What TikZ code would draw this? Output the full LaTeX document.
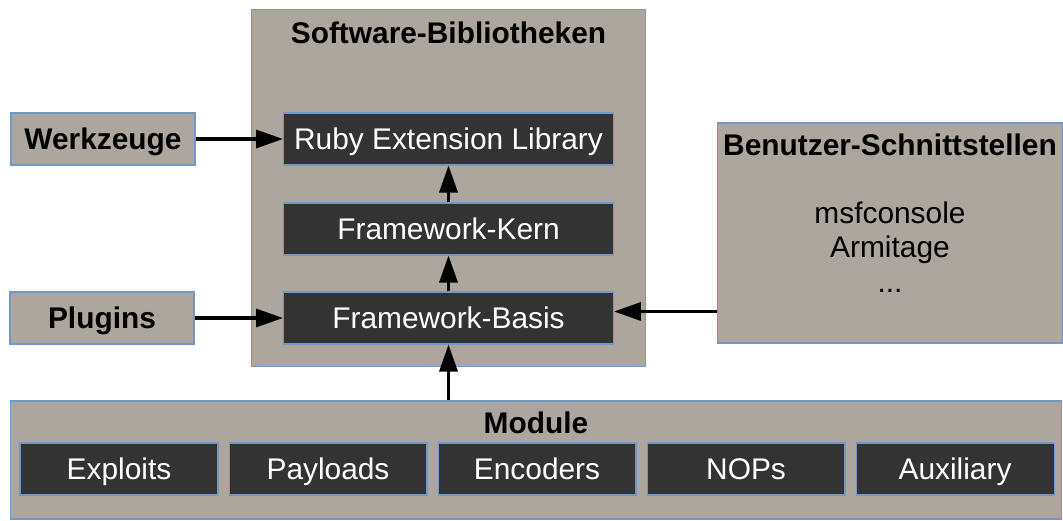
\documentclass[tikz,border=0pt]{standalone}
\usepackage{fontspec}
\setmainfont{Liberation Sans}
\usepackage{xcolor}
\usepackage{tikz}
\usetikzlibrary{positioning,arrows.meta}
\definecolor{taupe}{HTML}{ADA69F}
\definecolor{slate}{HTML}{333333}
\definecolor{rim}{HTML}{7298C8}

\begin{document}
\begin{tikzpicture}[
  x=0.02cm, y=-0.02cm,
  font=\fontsize{17}{19.5}\selectfont,
  group/.style={draw=rim, fill=taupe, line width=0.6pt, inner sep=0pt},
  part/.style={draw=rim, fill=slate, text=white, line width=0.6pt, minimum height=1.04cm, inner sep=0pt, text height=13.5pt, text depth=2pt},
  side/.style={draw=rim, fill=taupe, line width=0.6pt, minimum height=1.04cm, inner sep=0pt, text height=13.5pt, text depth=2pt, font=\fontsize{17}{19.5}\selectfont\bfseries},
  head/.style={inner sep=0pt, font=\fontsize{17}{19.5}\selectfont\bfseries},
  arr/.style={-{Triangle[length=0.54cm, width=0.36cm]}, line width=1.9pt}
]
\useasboundingbox (0,0) rectangle (1063,521);
% Software-Bibliotheken
\node[group, minimum width=7.9cm, minimum height=7.16cm] (lib) at (448.5,188) {};
\node[head] (libtitle) at (448.5,33) {Software-Bibliotheken};
\node[part, minimum width=6.6cm] (ruby) at (448.5,139) {Ruby Extension Library};
\node[part, minimum width=6.6cm] (kern) at (448.5,229) {Framework-Kern};
\node[part, minimum width=6.6cm] (basis) at (448.5,318) {Framework-Basis};
% linke Seite
\node[side, minimum width=3.68cm] (werkzeuge) at (103,139) {Werkzeuge};
\node[side, minimum width=3.68cm] (plugins) at (102,318) {Plugins};
% Benutzer-Schnittstellen
\node[group, minimum width=6.92cm, minimum height=4.4cm] (benutzer) at (890,233) {};
\node[head] (benutzertitle) at (890,145) {Benutzer-Schnittstellen};
\node[align=center, inner sep=0pt] (clients) at (890,247) {msfconsole\\Armitage\\...};
% Module
\node[group, minimum width=21.04cm, minimum height=2.36cm] (module) at (536,460) {};
\node[head] (moduletitle) at (536,423) {Module};
\node[part, minimum width=3.96cm] (exploits) at (119,469) {Exploits};
\node[part, minimum width=3.96cm, right=0.2cm of exploits] (payloads) {Payloads};
\node[part, minimum width=3.96cm, right=0.2cm of payloads] (encoders) {Encoders};
\node[part, minimum width=3.96cm, right=0.2cm of encoders] (nops) {NOPs};
\node[part, minimum width=3.96cm, right=0.2cm of nops] (auxiliary) {Auxiliary};
% Pfeile
\draw[arr] (werkzeuge) -- (ruby);
\draw[arr] (plugins) -- (basis);
\draw[arr] (kern) -- (ruby);
\draw[arr] (basis) -- (kern);
\draw[arr] (module.north -| basis) -- (basis);
\draw[arr] ([yshift=0.13cm]basis.east -| benutzer.west) -- ([yshift=0.13cm]basis.east);
\end{tikzpicture}
\end{document}
